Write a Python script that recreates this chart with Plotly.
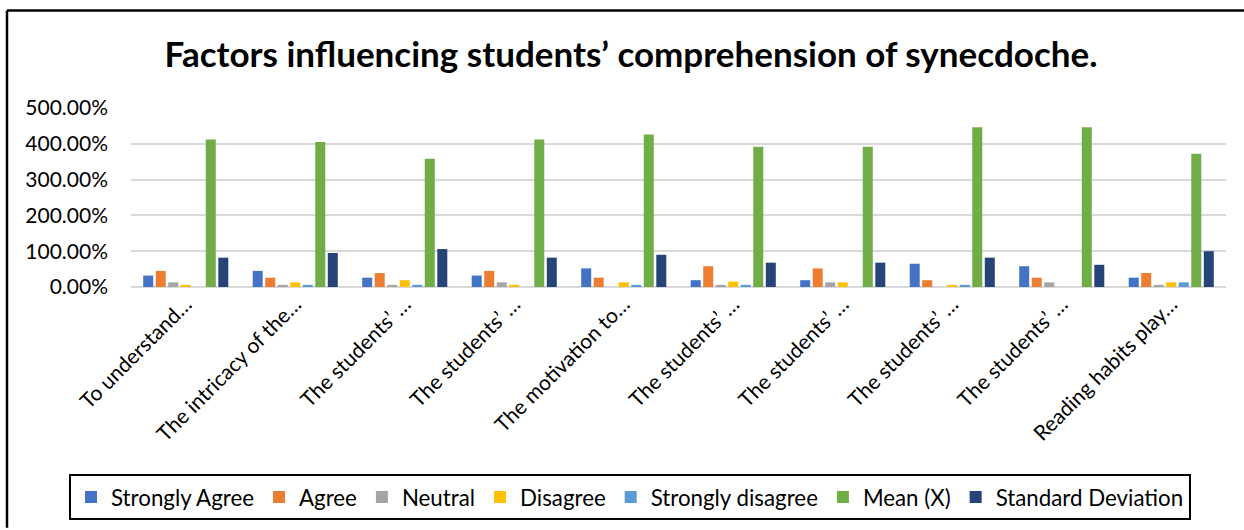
import plotly.graph_objects as go

categories = [
    "To understand…", "The intricacy of the…", "The students’ …", "The students’ …",
    "The motivation to…", "The students’ …", "The students’ …", "The students’ …",
    "The students’ …", "Reading habits play…",
]
strongly_agree = [0.32, 0.45, 0.26, 0.32, 0.52, 0.19, 0.19, 0.65, 0.58, 0.26]
agree = [0.45, 0.26, 0.39, 0.45, 0.26, 0.58, 0.52, 0.19, 0.26, 0.39]
neutral = [0.13, 0.06, 0.06, 0.13, 0.0, 0.06, 0.13, 0.0, 0.13, 0.06]
disagree = [0.06, 0.13, 0.19, 0.06, 0.13, 0.15, 0.13, 0.06, 0.0, 0.13]
strongly_disagree = [0.0, 0.06, 0.06, 0.0, 0.06, 0.06, 0.0, 0.06, 0.0, 0.13]
mean_x = [4.12, 4.05, 3.58, 4.12, 4.26, 3.92, 3.92, 4.46, 4.46, 3.72]
std_dev = [0.82, 0.95, 1.06, 0.82, 0.90, 0.68, 0.68, 0.82, 0.62, 1.00]

series = [
    ("Strongly Agree", strongly_agree, "#4472C4"),
    ("Agree", agree, "#ED7D31"),
    ("Neutral", neutral, "#A5A5A5"),
    ("Disagree", disagree, "#FFC000"),
    ("Strongly disagree", strongly_disagree, "#5B9BD5"),
    ("Mean (X)", mean_x, "#70AD47"),
    ("Standard Deviation", std_dev, "#264478"),
]

xpos = list(range(len(categories)))
FONT = "Lato, 'Open Sans', sans-serif"

fig = go.Figure()
for name, vals, color in series:
    fig.add_trace(go.Bar(x=xpos, y=vals, name=name, marker=dict(color=color, line=dict(width=0))))

# pixel geometry of the plot area
L, R, T, B = 131, 1226, 108, 288
W, H = 1244, 530
def px(x):
    return (x - L) / (R - L)
def py(y):
    return (B - y) / (B - T)

fig.update_layout(
    width=W, height=H,
    margin=dict(l=L, r=W - R, t=T, b=H - B),
    paper_bgcolor="white", plot_bgcolor="white",
    barmode="group", bargap=0.2, bargroupgap=0.2,
    font=dict(family=FONT, color="black"),
    title=dict(
        text="<b>Factors influencing students’ comprehension of synecdoche.</b>",
        x=631 / W, xanchor="center", xref="container",
        y=1 - 55 / H, yanchor="middle", yref="container",
        font=dict(size=35, family=FONT, color="black"),
    ),
    xaxis=dict(
        tickmode="array", tickvals=xpos, ticktext=categories,
        tickangle=-45, tickfont=dict(size=21),
        range=[-0.5, len(categories) - 0.5],
        showgrid=False, showline=False, zeroline=False, ticks="",
    ),
    yaxis=dict(
        range=[0, 5], tickvals=[0, 1, 2, 3, 4, 5], tickformat=".2%",
        tickfont=dict(size=21), showgrid=True, gridcolor="#d9d9d9", gridwidth=1.5,
        zeroline=True, zerolinecolor="#d9d9d9", zerolinewidth=2,
        showline=False, ticks="", ticklabelstandoff=22,
    ),
    showlegend=True,
    legend=dict(
        orientation="h", x=px(69), xanchor="left", y=py(474), yanchor="top",
        bordercolor="black", borderwidth=2, font=dict(size=22.3),
        itemwidth=30, tracegroupgap=0,
    ),
    shapes=[
        dict(type="line", xref="paper", yref="paper",
             x0=px(7), x1=px(1244), y0=py(10), y1=py(10),
             line=dict(color="black", width=2.5), layer="above"),
        dict(type="line", xref="paper", yref="paper",
             x0=px(7), x1=px(7), y0=py(10), y1=py(530),
             line=dict(color="black", width=2.5), layer="above"),
    ],
)

fig.write_html("out.html")
